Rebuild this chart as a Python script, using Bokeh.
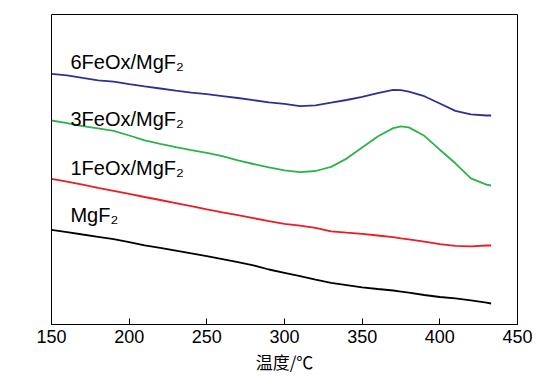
from bokeh.plotting import figure
from bokeh.models import Range1d, FixedTicker, Label
from bokeh.embed import file_html
from bokeh.resources import INLINE

# Temperature (°C)
temperature = [150, 160, 170, 180, 190, 200, 210, 220, 230, 240, 250, 260, 270,
               280, 290, 300, 310, 320, 330, 340, 350, 360, 370, 375, 380, 390,
               400, 410, 420, 430, 433]

# Signal (arbitrary units, offset traces)
fe6_mgf2 = [250.7, 249.2, 246.6, 244.2, 242.8, 240.4, 238.1, 236.0, 233.8, 231.9,
            230.3, 228.4, 226.5, 224.3, 222.1, 220.7, 218.4, 219.2, 221.8, 224.5,
            227.7, 231.4, 234.6, 234.3, 232.9, 228.3, 221.0, 213.6, 210.2, 209.0, 209.0]
fe3_mgf2 = [204.0, 201.3, 198.4, 196.1, 193.6, 189.0, 184.2, 180.7, 177.3, 174.4,
            171.6, 168.3, 164.2, 160.5, 157.2, 154.2, 152.3, 153.5, 157.6, 165.9,
            176.9, 188.0, 196.4, 198.2, 197.1, 188.7, 174.8, 161.2, 146.2, 139.8, 139.0]
fe1_mgf2 = [145.7, 142.8, 139.8, 136.7, 133.7, 130.6, 127.5, 124.5, 121.4, 118.3,
            115.1, 112.2, 109.4, 106.4, 103.3, 100.6, 98.8, 96.7, 93.1, 91.8,
            90.6, 89.0, 87.4, 86.2, 85.1, 82.8, 80.4, 78.7, 78.2, 79.0, 79.0]
mgf2 = [94.7, 92.4, 90.0, 87.7, 85.4, 82.3, 79.2, 76.6, 73.9, 71.1,
        68.3, 65.4, 62.4, 59.1, 55.0, 51.7, 48.4, 44.9, 41.6, 39.4,
        37.1, 35.5, 34.0, 32.9, 31.8, 29.5, 27.5, 26.1, 24.2, 21.9, 21.0]

series_names = ["6FeOx/MgF₂", "3FeOx/MgF₂", "1FeOx/MgF₂", "MgF₂"]
x_ticks = [150, 200, 250, 300, 350, 400, 450]

p = figure(width=541, height=382, output_backend="svg", toolbar_location=None,
           x_range=Range1d(150, 450), y_range=Range1d(0, 310),
           y_axis_location=None,
           min_border_left=51, min_border_right=24, min_border_top=14, min_border_bottom=58)

p.xgrid.visible = False
p.ygrid.visible = False
p.outline_line_color = "black"
p.outline_line_width = 1
p.outline_line_alpha = 1
p.background_fill_color = "white"
p.border_fill_color = "white"

colors = ["#2E3192", "#2DB34A", "#ED1C24", "#000000"]
for ys, c in zip([fe6_mgf2, fe3_mgf2, fe1_mgf2, mgf2], colors):
    p.line(temperature, ys, line_color=c, line_width=1.8)

ax = p.xaxis[0]
ax.ticker = FixedTicker(ticks=x_ticks)
ax.major_tick_in = 6
ax.major_tick_out = 0
ax.minor_tick_line_color = None
ax.axis_line_color = "black"
ax.major_tick_line_color = "black"
ax.major_label_text_font = "Liberation Sans"
ax.major_label_text_font_size = "18px"
ax.major_label_text_color = "black"
ax.major_label_standoff = 5
ax.axis_label = "温度/℃"
ax.axis_label_text_font = "Noto Sans CJK SC"
ax.axis_label_text_font_size = "17px"
ax.axis_label_text_font_style = "normal"
ax.axis_label_text_color = "black"
ax.axis_label_standoff = 3

label_y = [263, 206, 157, 109.5]
for name, ly in zip(series_names, label_y):
    p.add_layout(Label(x=162.2, y=ly, text=name, text_font="Liberation Sans",
                       text_font_size="20px", text_color="black",
                       text_baseline="alphabetic", text_align="left"))

open("out.html", "w").write(file_html(p, INLINE))
